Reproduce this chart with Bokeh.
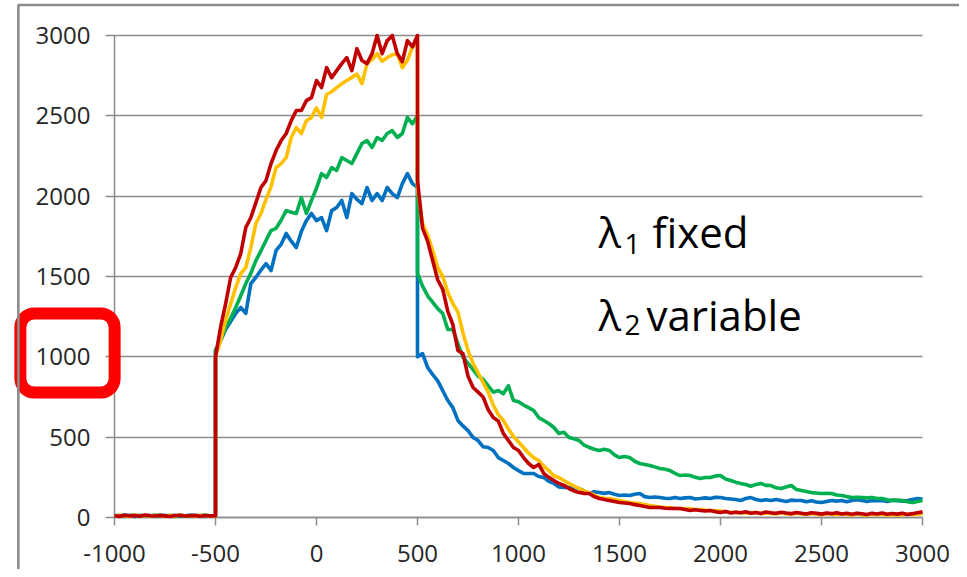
from bokeh.plotting import figure
from bokeh.models import Range1d, Label, FixedTicker
from bokeh.embed import file_html
from bokeh.resources import INLINE

# ---------------- data ----------------
time = list(range(-1000, -499, 25)) + list(range(-500, 501, 25)) + list(range(500, 3001, 25))

blue = ([12, 8, 15, 10, 6, 14, 11, 9, 16, 7, 12, 10, 13, 8, 11, 15, 9, 12, 7, 10, 12] +
        [1040, 1100, 1170, 1220, 1270, 1307, 1270, 1456, 1494, 1540,
         1580, 1537, 1662, 1700, 1768, 1720, 1680, 1780, 1848, 1892,
         1848, 1867, 1786, 1910, 1929, 1973, 1867, 2016, 1980, 1954,
         2054, 1973, 2016, 1973, 2054, 2016, 1991, 2078, 2140, 2078, 2054] +
        [1000, 1020, 934, 890, 850, 790, 728, 684, 604, 570,
         541, 498, 479, 440, 436, 417, 373, 355, 336, 311,
         292, 274, 274, 274, 255, 249, 225, 212, 190, 187,
         187, 185, 180, 165, 149, 160, 155, 150, 155, 145,
         137, 140, 137, 145, 149, 130, 124, 128, 124, 120,
         118, 125, 118, 122, 124, 115, 118, 122, 118, 126,
         124, 118, 115, 112, 106, 118, 124, 112, 106, 110,
         106, 112, 106, 100, 108, 106, 106, 98, 104, 96,
         93, 100, 106, 102, 106, 98, 106, 110, 106, 100,
         106, 104, 106, 100, 108, 106, 102, 106, 112, 118, 115])

green = ([10, 14, 7, 12, 16, 9, 11, 13, 8, 15, 10, 12, 6, 14, 11, 9, 13, 10, 15, 8, 11] +
         [1040, 1100, 1183, 1240, 1307, 1380, 1456, 1520, 1599, 1660,
          1724, 1786, 1800, 1850, 1910, 1900, 1892, 1991, 1892, 1973,
          2050, 2140, 2116, 2178, 2160, 2240, 2222, 2203, 2265, 2328,
          2346, 2303, 2365, 2346, 2390, 2408, 2365, 2390, 2490, 2450, 2502] +
         [1520, 1440, 1380, 1340, 1300, 1270, 1170, 1170, 1080, 1000,
          960, 920, 880, 860, 820, 780, 790, 770, 820, 728,
          720, 700, 684, 666, 622, 604, 585, 560, 523, 530,
          498, 490, 479, 450, 436, 425, 417, 425, 417, 390,
          373, 380, 373, 350, 336, 330, 324, 315, 305, 300,
          292, 275, 261, 265, 261, 250, 243, 249, 249, 258,
          261, 240, 230, 220, 212, 205, 195, 205, 212, 200,
          199, 185, 180, 190, 199, 175, 168, 162, 155, 152,
          149, 150, 149, 140, 137, 130, 124, 126, 124, 122,
          124, 118, 118, 110, 106, 108, 106, 98, 93, 100, 106])

yellow = ([9, 13, 11, 6, 15, 10, 12, 8, 14, 11, 7, 13, 10, 16, 9, 12, 8, 14, 11, 9, 10] +
          [1000, 1100, 1226, 1330, 1431, 1518, 1556, 1680, 1830, 1892,
           1979, 2060, 2178, 2203, 2240, 2365, 2427, 2390, 2470, 2490,
           2550, 2490, 2633, 2650, 2676, 2700, 2720, 2738, 2760, 2700,
           2825, 2850, 2887, 2840, 2862, 2880, 2887, 2800, 2844, 2930, 2950] +
          [2050, 1830, 1760, 1662, 1556, 1500, 1400, 1331, 1280, 1150,
           1040, 960, 900, 840, 780, 700, 640, 604, 550, 505,
           470, 436, 400, 373, 355, 320, 292, 260, 249, 230,
           212, 195, 180, 165, 155, 140, 124, 120, 118, 112,
           106, 100, 93, 90, 87, 80, 75, 70, 65, 62,
           62, 58, 56, 54, 56, 50, 50, 46, 44, 42,
           40, 36, 31, 34, 28, 30, 26, 32, 24, 28,
           25, 22, 29, 24, 20, 27, 23, 19, 25, 21,
           18, 24, 20, 17, 23, 19, 16, 22, 18, 15,
           21, 17, 20, 16, 19, 15, 18, 22, 17, 20, 24])

red = ([11, 7, 14, 10, 12, 8, 15, 11, 9, 13, 10, 6, 12, 14, 9, 11, 13, 8, 12, 10, 11] +
       [1000, 1183, 1330, 1494, 1556, 1643, 1805, 1867, 1960, 2054,
        2097, 2203, 2284, 2346, 2390, 2470, 2533, 2533, 2595, 2613,
        2720, 2676, 2800, 2738, 2781, 2825, 2862, 2781, 2918, 2844,
        2825, 2887, 3000, 2887, 2968, 3000, 2887, 2837, 2968, 2930, 3000] +
       [2100, 1800, 1720, 1600, 1480, 1420, 1283, 1200, 1040, 1020,
        880, 809, 780, 750, 670, 622, 600, 523, 479, 436,
        417, 373, 336, 311, 330, 274, 250, 230, 212, 200,
        180, 165, 155, 150, 149, 130, 118, 112, 106, 100,
        93, 90, 87, 80, 75, 68, 62, 62, 62, 58,
        56, 56, 56, 50, 44, 48, 44, 40, 44, 36,
        31, 38, 28, 33, 30, 36, 27, 31, 25, 34,
        29, 26, 33, 28, 24, 31, 27, 22, 30, 26,
        21, 28, 24, 30, 22, 26, 20, 27, 23, 19,
        26, 22, 28, 20, 25, 21, 27, 19, 24, 30, 35])

series = [("blue", blue, "#0070C0"), ("green", green, "#00B050"),
          ("yellow", yellow, "#FFC000"), ("red", red, "#C00000")]
for name, vals, _ in series:
    assert len(vals) == len(time), (name, len(vals), len(time))

x_ticks = [-1000, -500, 0, 500, 1000, 1500, 2000, 2500, 3000]
x_tick_labels = ["-1000", "-500", "0", "500", "1000", "1500", "2000", "2500", "3000"]
y_ticks = [0, 500, 1000, 1500, 2000, 2500, 3000]
X_MIN, X_MAX = -1000, 3000
Y_MIN, Y_MAX = 0, 3000

# ---------------- layout geometry (canvas pixels) ----------------
W, H = 959, 569
AL, AR, AT, AB = 114, 922, 35, 517     # where the axes box sits on the canvas

def xd(px):   # canvas pixel -> data x
    return X_MIN + (px - AL) * (X_MAX - X_MIN) / (AR - AL)

def yd(py):   # canvas pixel -> data y
    return Y_MIN + (AB - py) * (Y_MAX - Y_MIN) / (AB - AT)

# the plot frame covers the whole canvas; the axes are pinned inside it
p = figure(width=W, height=H, output_backend="svg", toolbar_location=None,
           x_range=Range1d(xd(0), xd(W)), y_range=Range1d(yd(H), yd(0)), min_border=0)
p.outline_line_color = None
p.background_fill_color = "white"
p.border_fill_color = "white"
p.xgrid.visible = False
p.ygrid.visible = False

for ax, ticks, loc, bounds in ((p.xaxis[0], x_ticks, Y_MIN, (X_MIN, X_MAX)),
                               (p.yaxis[0], y_ticks, X_MIN, (Y_MIN, Y_MAX))):
    ax.ticker = FixedTicker(ticks=ticks)
    ax.fixed_location = loc
    ax.bounds = bounds
    ax.level = "underlay"
    ax.axis_line_color = "#8c8c8c"
    ax.axis_line_width = 1.5
    ax.major_tick_line_color = "#8c8c8c"
    ax.major_tick_line_width = 1.5
    ax.minor_tick_line_color = None
    ax.major_label_text_font = "Open Sans"
    ax.major_label_text_font_size = "24px"
    ax.major_label_text_color = "#262626"
# x axis: short ticks below the axis
p.xaxis[0].major_tick_out = 8
p.xaxis[0].major_tick_in = 0
p.xaxis[0].major_label_standoff = 19
p.xaxis[0].major_label_overrides = dict(zip(x_ticks, x_tick_labels))
# y axis: ticks stick out 9px and run across the whole axes box as the horizontal grid
p.yaxis[0].major_tick_out = 9
p.yaxis[0].major_tick_in = AR - AL
p.yaxis[0].major_label_standoff = 15

for name, vals, color in series:
    p.line(time, vals, line_color=color, line_width=3.6, line_join="round")

# ---------------- annotations ----------------
UP = 16  # text glyph baseline correction
lbl = dict(text_font="Open Sans", text_color="black", text_baseline="alphabetic", text_align="left")
p.add_layout(Label(x=xd(598), y=yd(247 - UP), text="λ", text_font_size="42px", **lbl))
p.add_layout(Label(x=xd(624), y=yd(259 - UP), text="1", text_font_size="28px", **lbl))
p.add_layout(Label(x=xd(652), y=yd(247 - UP), text="fixed", text_font_size="42px", **lbl))
p.add_layout(Label(x=xd(598), y=yd(330 - UP), text="λ", text_font_size="42px", **lbl))
p.add_layout(Label(x=xd(624), y=yd(340 - UP), text="2", text_font_size="28px", **lbl))
p.add_layout(Label(x=xd(646), y=yd(330 - UP), text="variable", text_font_size="42px", **lbl))

def box(cx, cy, half_w, half_h, color, width, radius=0):
    return Label(x=xd(cx), y=yd(cy), text=" ", text_font_size="1px",
                 text_align="center", text_baseline="middle",
                 border_line_color=color, border_line_width=width, border_line_alpha=1.0,
                 border_radius=radius,
                 padding=dict(left=half_w, right=half_w, top=half_h, bottom=half_h))

# red rounded highlight box around the 1000 tick label
p.add_layout(box(67, 352.5, 47, 39, "#FF0000", 12, radius=14))
# slide frame lines at the left and top
p.add_layout(box(18 + 1500, 5 + 1500, 1500, 1500, "#8c8c8c", 2.6))

open("out.html", "w").write(file_html(p, INLINE))
